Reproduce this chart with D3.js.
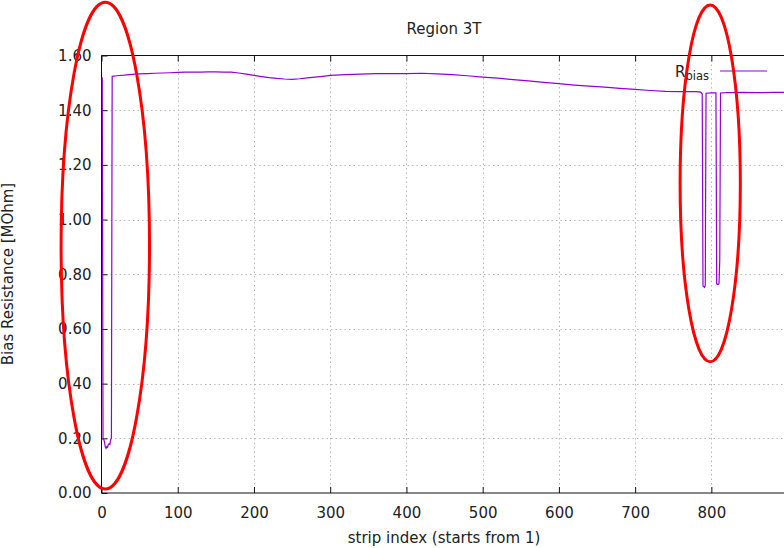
<!DOCTYPE html>
<html>
<head>
<meta charset="utf-8">
<script src="https://cdn.jsdelivr.net/npm/d3@7"></script>
<style>
  body { margin: 0; background: #fff; }
  text { font-family: "DejaVu Sans", sans-serif; fill: #222; }
</style>
</head>
<body>
<div id="chart"></div>
<script>
// strip index and bias resistance (MOhm)
const strips = [1, 2, 3, 4, 5, 6, 7, 8, 9, 10, 11, 12, 13, 14,
  20, 30, 40, 50, 60, 70, 80, 90, 100, 110, 120, 130, 140, 150, 160, 170, 180, 190,
  200, 210, 220, 230, 240, 250, 260, 270, 280, 290, 300, 320, 340, 360, 380, 400,
  420, 440, 460, 480, 500, 520, 540, 560, 580, 600, 620, 640, 660, 680, 700, 720,
  740, 760, 780, 786, 787, 788, 789, 790, 791, 792, 793, 800, 806, 807, 808, 809,
  810, 811, 812, 820, 840, 860, 880, 900];
const rbias = [1.520, 0.198, 0.196, 0.185, 0.168, 0.163, 0.170, 0.167, 0.178, 0.180, 0.178, 0.195, 0.200, 1.524,
  1.526, 1.528, 1.531, 1.533, 1.534, 1.535, 1.536, 1.537, 1.538, 1.539, 1.539, 1.539, 1.540, 1.540, 1.539, 1.539, 1.536, 1.532,
  1.527, 1.523, 1.519, 1.516, 1.514, 1.513, 1.515, 1.518, 1.521, 1.524, 1.527, 1.530, 1.532, 1.534, 1.534, 1.534,
  1.535, 1.533, 1.530, 1.526, 1.521, 1.517, 1.512, 1.507, 1.502, 1.497, 1.492, 1.488, 1.484, 1.480, 1.476, 1.472,
  1.469, 1.468, 1.468, 1.466, 1.462, 1.460, 0.757, 0.755, 0.752, 0.760, 1.462, 1.463, 1.463, 0.765, 0.763, 0.763,
  0.765, 0.852, 1.463, 1.464, 1.465, 1.464, 1.465, 1.465];

// tick positions; the 900 tick lies just past the window edge in the reference
const xTicks = [0, 100, 200, 300, 400, 500, 600, 700, 800];
const yTicks = [0, 0.2, 0.4, 0.6, 0.8, 1.0, 1.2, 1.4, 1.6];

// red hand-drawn highlights: strip range and value range each ellipse covers
const marks = [
  { strips: [-53, 63], values: [0.015, 1.795] },
  { strips: [759, 838], values: [0.48, 1.785] }
];

const width = 784;
const height = 548;
const plotLeft = 101.5, plotRight = 787.6, plotTop = 55.5, plotBottom = 493;

const svg = d3.select("#chart")
  .append("svg")
  .attr("width", width)
  .attr("height", height);

const x = d3.scaleLinear().domain([0, 900]).range([plotLeft, plotRight]);
const y = d3.scaleLinear().domain([0, 1.6]).range([plotBottom, plotTop]);

// grid (dotted)
svg.append("g").selectAll("line")
  .data(xTicks.slice(1))
  .enter().append("line")
  .attr("x1", d => Math.round(x(d)) + 0.5).attr("x2", d => Math.round(x(d)) + 0.5)
  .attr("y1", plotTop).attr("y2", plotBottom)
  .style("stroke", "#b8b8b8").style("stroke-dasharray", "1.5,3");
svg.append("g").selectAll("line")
  .data(yTicks.slice(1, -1))
  .enter().append("line")
  .attr("x1", plotLeft).attr("x2", plotRight)
  .attr("y1", d => Math.round(y(d)) + 0.5).attr("y2", d => Math.round(y(d)) + 0.5)
  .style("stroke", "#b8b8b8").style("stroke-dasharray", "1.5,3");

// axes: ticks point inward, labels outside
const xAxis = svg.append("g")
  .attr("transform", "translate(0," + plotBottom + ")")
  .call(d3.axisBottom(x).tickValues(xTicks).tickSize(-6).tickPadding(14).tickFormat(d3.format("d")));
const xAxisTop = svg.append("g")
  .attr("transform", "translate(0," + plotTop + ")")
  .call(d3.axisTop(x).tickValues(xTicks).tickSize(-6).tickFormat(""));
const yAxis = svg.append("g")
  .attr("transform", "translate(" + plotLeft + ",0)")
  .call(d3.axisLeft(y).tickValues(yTicks).tickSize(-6).tickPadding(10).tickFormat(d3.format(".2f")));

[xAxis, xAxisTop, yAxis].forEach(function(g) {
  g.selectAll("text").style("font-family", "DejaVu Sans, sans-serif").style("font-size", "15px").style("fill", "#222");
  g.selectAll("line").style("stroke", "#111");
  g.select(".domain").remove();
});

// border
svg.append("path")
  .attr("d", "M" + plotLeft + "," + plotTop + "H" + plotRight + "M" + plotLeft + "," + plotTop + "V" + plotBottom + "H" + plotRight)
  .style("fill", "none").style("stroke", "#111").style("stroke-width", 1);

// data line
const points = strips.map((s, i) => [s, rbias[i]]);
const line = d3.line().x(d => x(d[0])).y(d => y(d[1]));
svg.append("path")
  .datum(points)
  .attr("d", line)
  .style("fill", "none")
  .style("stroke", "#9400d3")
  .style("stroke-width", 1.2);

// legend
const leg = svg.append("text").attr("x", 675).attr("y", 77).style("font-size", "15px");
leg.append("tspan").text("R");
leg.append("tspan").attr("dy", 3).style("font-size", "11.5px").text("bias");
svg.append("line")
  .attr("x1", 720).attr("x2", 767).attr("y1", 71).attr("y2", 71)
  .style("stroke", "#9400d3").style("stroke-width", 1.2);

// title and axis labels
svg.append("text")
  .attr("x", 444).attr("y", 34)
  .attr("text-anchor", "middle")
  .style("font-size", "15px")
  .text("Region 3T");
svg.append("text")
  .attr("x", 444).attr("y", 543)
  .attr("text-anchor", "middle")
  .style("font-size", "15px")
  .text("strip index (starts from 1)");
svg.append("text")
  .attr("transform", "translate(13,274) rotate(-90)")
  .attr("text-anchor", "middle")
  .style("font-size", "15px")
  .text("Bias Resistance [MOhm]");

// red highlight ellipses drawn over the plot
svg.append("g").selectAll("ellipse")
  .data(marks)
  .enter().append("ellipse")
  .attr("cx", d => (x(d.strips[0]) + x(d.strips[1])) / 2)
  .attr("cy", d => (y(d.values[0]) + y(d.values[1])) / 2)
  .attr("rx", d => (x(d.strips[1]) - x(d.strips[0])) / 2)
  .attr("ry", d => (y(d.values[0]) - y(d.values[1])) / 2)
  .style("fill", "none")
  .style("stroke", "#ff0000")
  .style("stroke-width", 3);
</script>
</body>
</html>
